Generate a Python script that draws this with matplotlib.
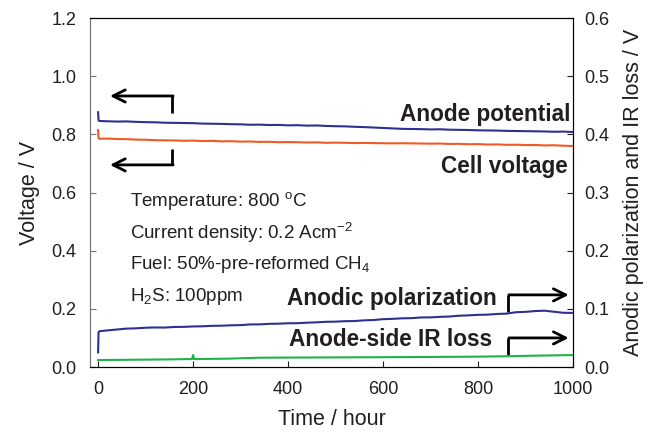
import matplotlib
matplotlib.use("Agg")
import matplotlib.pyplot as plt
from matplotlib.ticker import FormatStrFormatter

plt.rcParams['font.family'] = ['Liberation Sans', 'DejaVu Sans']
plt.rcParams['mathtext.default'] = 'regular'

# time axis (hours)
hours = [0, 1, 3, 20, 40, 60, 80, 100, 120, 140, 160, 180, 200, 220, 240, 260,
         280, 300, 320, 340, 360, 380, 400, 420, 440, 460, 480, 500, 520, 540,
         560, 580, 600, 620, 640, 660, 680, 700, 720, 740, 760, 780, 800, 820,
         840, 860, 880, 900, 920, 940, 960, 980, 1000]

# left axis (V)
anode_potential = [0.876, 0.848, 0.846, 0.845, 0.844, 0.8445, 0.843, 0.842, 0.8415, 0.840,
                   0.8395, 0.839, 0.8385, 0.837, 0.8365, 0.836, 0.835, 0.8345, 0.833, 0.8335,
                   0.832, 0.8325, 0.831, 0.8315, 0.830, 0.8305, 0.829, 0.828, 0.8275, 0.826,
                   0.825, 0.8235, 0.822, 0.8205, 0.819, 0.8185, 0.818, 0.817, 0.8175, 0.816,
                   0.8155, 0.815, 0.814, 0.8135, 0.813, 0.812, 0.8115, 0.811, 0.8105, 0.810,
                   0.809, 0.8095, 0.808]
cell_voltage = [0.815, 0.787, 0.785, 0.7855, 0.784, 0.7835, 0.782, 0.7815, 0.780, 0.7795,
                0.779, 0.778, 0.7785, 0.777, 0.7775, 0.776, 0.7765, 0.775, 0.7755, 0.774,
                0.7745, 0.773, 0.7735, 0.773, 0.772, 0.7725, 0.771, 0.7715, 0.771, 0.770,
                0.7705, 0.770, 0.7695, 0.769, 0.7695, 0.769, 0.7685, 0.768, 0.7685, 0.767,
                0.7675, 0.766, 0.7665, 0.765, 0.7655, 0.764, 0.7645, 0.763, 0.7635, 0.762,
                0.7625, 0.761, 0.760]

# right axis (V)
anodic_polarization = [0.025, 0.060, 0.0615, 0.063, 0.0645, 0.066, 0.0665, 0.0675, 0.0680, 0.0678,
                       0.0688, 0.0690, 0.0697, 0.0700, 0.0708, 0.0710, 0.0717, 0.0720, 0.0732, 0.0733,
                       0.0742, 0.0745, 0.0752, 0.0753, 0.0762, 0.0768, 0.0777, 0.0780, 0.0788, 0.0790,
                       0.0802, 0.0808, 0.0822, 0.0828, 0.0837, 0.0840, 0.0852, 0.0853, 0.0862, 0.0868,
                       0.0882, 0.0888, 0.0897, 0.0900, 0.0912, 0.0918, 0.0942, 0.0948, 0.0962, 0.0968,
                       0.0950, 0.0932, 0.0930]
hours_ir = [0, 20, 40, 60, 80, 100, 120, 140, 160, 180, 198, 200, 202, 220, 240, 260,
            280, 300, 340, 400, 460, 520, 580, 640, 700, 760, 800, 860, 920, 960, 1000]
ir_loss = [0.0120, 0.0121, 0.0122, 0.0124, 0.0125, 0.0127, 0.0128, 0.0130, 0.0132, 0.0135,
           0.0137, 0.0205, 0.0137, 0.0138, 0.0140, 0.0142, 0.0145, 0.0150, 0.0160, 0.0162,
           0.0164, 0.0166, 0.0168, 0.0170, 0.0173, 0.0176, 0.0178, 0.0185, 0.0195, 0.0200, 0.0205]

dark = '#231f20'
fig = plt.figure(figsize=(6.58, 4.4), dpi=100)
ax = fig.add_axes([0.1368, 0.1659, 0.7340, 0.7931])
ax2 = ax.twinx()

ax.plot(hours, anode_potential, color='#2e3192', lw=1.5)
ax.plot(hours, cell_voltage, color='#f15a24', lw=1.5)
ax2.plot(hours, anodic_polarization, color='#2e3192', lw=1.5)
ax2.plot(hours_ir, ir_loss, color='#22b14c', lw=1.5)

ax.set_xlim(-17, 1000)
ax.set_ylim(0, 1.2)
ax2.set_ylim(0, 0.6)
ax.set_xticks([0, 200, 400, 600, 800, 1000])
ax.set_yticks([0, 0.2, 0.4, 0.6, 0.8, 1.0, 1.2])
ax2.set_yticks([0, 0.1, 0.2, 0.3, 0.4, 0.5, 0.6])
ax.yaxis.set_major_formatter(FormatStrFormatter('%.1f'))
ax2.yaxis.set_major_formatter(FormatStrFormatter('%.1f'))

ax.tick_params(direction='in', length=4, labelsize=13, colors=dark)
ax.tick_params(axis='y', pad=10, color='#777777')
ax.tick_params(axis='x', pad=10)
ax2.tick_params(direction='in', length=4, labelsize=13, colors=dark, pad=8)
ax.spines['left'].set_color('#777777')
ax2.spines['left'].set_color('#777777')

ax.set_xlabel('Time / hour', fontsize=15.5, color=dark, labelpad=8)
ax.set_ylabel('Voltage / V', fontsize=15.5, color=dark, labelpad=8)
ax2.set_ylabel('Anodic polarization and IR loss / V', fontsize=15.5, color=dark, labelpad=10)

# series labels
ax.text(994, 0.867, 'Anode potential', ha='right', va='center', fontsize=16.3,
        fontweight='bold', color=dark)
ax.text(989, 0.691, 'Cell voltage', ha='right', va='center', fontsize=16.3,
        fontweight='bold', color=dark)
ax.text(840, 0.237, 'Anodic polarization', ha='right', va='center', fontsize=16.3,
        fontweight='bold', color=dark)
ax.text(829, 0.096, 'Anode-side IR loss', ha='right', va='center', fontsize=16.3,
        fontweight='bold', color=dark)

# conditions
ax.text(67, 0.571, 'Temperature: 800 $^{o}$C', fontsize=13.5, color=dark, va='center')
ax.text(67, 0.461, 'Current density: 0.2 Acm$^{-2}$', fontsize=13.5, color=dark, va='center')
ax.text(67, 0.351, 'Fuel: 50%-pre-reformed CH$_{4}$', fontsize=13.5, color=dark, va='center')
ax.text(67, 0.241, 'H$_{2}$S: 100ppm', fontsize=13.5, color=dark, va='center')

# arrows pointing to the axes
def bent_arrow(x0, y0, y1, x1):
    ax.plot([x0, x0], [y0, y1], color='black', lw=2, solid_capstyle='butt')
    ax.annotate('', xy=(x1, y1), xytext=(x0 + 2, y1),
                arrowprops=dict(arrowstyle='->', lw=2, color='black',
                                mutation_scale=22, shrinkA=0, shrinkB=0))

bent_arrow(156, 0.873, 0.932, 25)
bent_arrow(156, 0.750, 0.695, 25)
bent_arrow(863, 0.189, 0.248, 991)
bent_arrow(863, 0.041, 0.100, 991)

fig.savefig('out.png', dpi=100)
